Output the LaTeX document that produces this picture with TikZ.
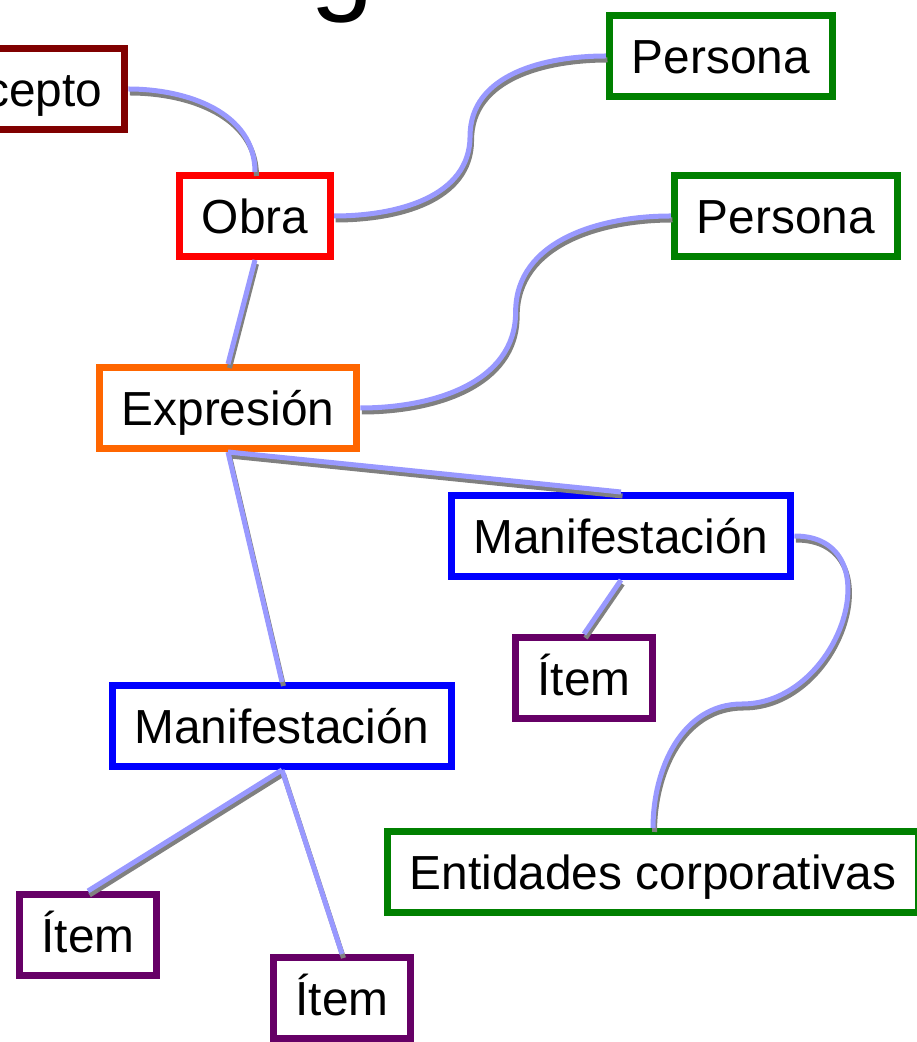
\documentclass[tikz,border=0pt]{standalone}
\usepackage{fontspec}
\setmainfont{Liberation Sans}
\usetikzlibrary{calc}
\definecolor{conceptred}{RGB}{128,0,0}
\definecolor{workred}{RGB}{255,0,0}
\definecolor{persongreen}{RGB}{0,128,0}
\definecolor{exprorange}{RGB}{255,102,0}
\definecolor{manifblue}{RGB}{0,0,255}
\definecolor{itempurple}{RGB}{102,0,102}
\definecolor{linkblue}{RGB}{153,153,255}

\begin{document}
\begin{tikzpicture}[every node/.style={font=\fontsize{27.2}{32}\selectfont},
    entity/.style={draw, line width=0.14cm, fill=white, inner xsep=0.45cm, inner ysep=0pt,
      minimum height=1.62cm, text height=21.8pt, text depth=2.3pt},
    link/.style={line width=0.1cm, draw=linkblue,
      preaction={draw=gray, line width=0.1cm, transform canvas={xshift=0.03cm,yshift=-0.08cm}}}]
        \useasboundingbox (0,0) rectangle (18.32,20.84);
        % title (cut off)
        \node[font=\fontsize{65}{70}\selectfont, anchor=base, inner sep=0pt] (title) at (6.84,20.84) {g};
        % entities
        \node[entity, draw=conceptred] (concepto) at (0,19.06) {Concepto};
        \node[entity, draw=workred] (obra) at (5.10,16.52) {Obra};
        \node[entity, draw=persongreen] (persona1) at (14.42,19.72) {Persona};
        \node[entity, draw=persongreen] (persona2) at (15.72,16.52) {Persona};
        \node[entity, draw=exprorange] (expr) at (4.56,12.68) {Expresión};
        \node[entity, draw=manifblue] (manif1) at (12.42,10.12) {Manifestación};
        \node[entity, draw=itempurple] (item1) at (11.68,7.28) {Ítem};
        \node[entity, draw=manifblue] (manif2) at (5.64,6.32) {Manifestación};
        \node[entity, draw=persongreen] (corp) at (13.06,3.40) {Entidades corporativas};
        \node[entity, draw=itempurple] (item2) at (1.76,2.14) {Ítem};
        \node[entity, draw=itempurple] (item3) at (6.84,0.88) {Ítem};
        \coordinate (bend) at (14.84,6.76);
        % links
        \draw[link] (concepto.east) to[out=0,in=90] (obra.north);
        \draw[link] (obra.east) to[out=0,in=-90] ($(obra.east)!.5!(persona1.west)$)
          to[out=90,in=180] (persona1.west);
        \draw[link] (obra.south) -- (expr.north);
        \draw[link] (expr.east) to[out=0,in=-90] ($(expr.east)!.5!(persona2.west)$)
          to[out=90,in=180] (persona2.west);
        \draw[link] (expr.south) -- (manif1.north);
        \draw[link] (expr.south) -- (manif2.north);
        \draw[link] (manif1.south) -- (item1.north);
        \draw[link] (manif1.east) to[out=0,in=0,looseness=1.45] (bend)
          to[out=180,in=90] (corp.north);
        \draw[link] (manif2.south) -- (item2.north);
        \draw[link] (manif2.south) -- (item3.north);
\end{tikzpicture}
\end{document}
